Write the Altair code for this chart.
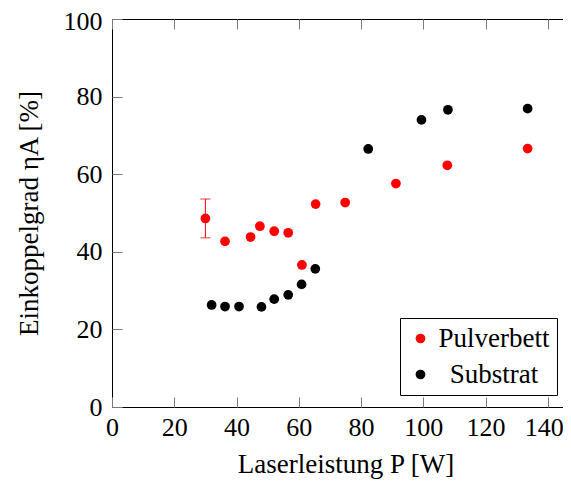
import altair as alt
import pandas as pd

# ---- data ----
series = ["Pulverbett", "Substrat"]
colors = ["#ff0000", "#000000"]

P_pulverbett = [30.0, 36.3, 44.5, 47.5, 52.1, 56.6, 61.0, 65.4, 74.9, 91.2, 107.7, 133.5]
eta_pulverbett = [48.6, 42.7, 43.8, 46.6, 45.3, 44.9, 36.6, 52.3, 52.7, 57.6, 62.3, 66.6]

P_substrat = [32.0, 36.3, 40.8, 48.0, 52.1, 56.6, 60.9, 65.3, 82.3, 99.4, 107.9, 133.5]
eta_substrat = [26.3, 25.9, 25.9, 25.8, 27.8, 28.9, 31.6, 35.6, 66.5, 74.0, 76.6, 76.9]

err_P = [30.0]
err_lo = [43.6]
err_hi = [53.6]

x_ticks = [0, 20, 40, 60, 80, 100, 120, 140]
y_ticks = [0, 20, 40, 60, 80, 100]
x_domain = [0, 150]
y_domain = [0, 100]

FONT = "Liberation Serif"
TICK = 10

df = pd.concat([
    pd.DataFrame({"P": P_pulverbett, "eta": eta_pulverbett, "serie": series[0]}),
    pd.DataFrame({"P": P_substrat, "eta": eta_substrat, "serie": series[1]}),
])
err_df = pd.DataFrame({"P": err_P, "lo": err_lo, "hi": err_hi})
cap_df = pd.DataFrame({"P": err_P + err_P, "y": err_lo + err_hi})

xs = alt.Scale(domain=x_domain, nice=False, zero=False)
ys = alt.Scale(domain=y_domain, nice=False, zero=False)

tick_axis = dict(labels=False, domain=False, tickSize=TICK, title=None,
                 tickColor="#7a7a7a", tickWidth=1, grid=False)

stem = alt.Chart(err_df).mark_rule(color="#ff0000", strokeWidth=1).encode(
    x=alt.X("P:Q", scale=xs,
            axis=alt.Axis(orient="top", values=x_ticks, offset=-TICK, **tick_axis)),
    y=alt.Y("lo:Q", scale=ys,
            axis=alt.Axis(orient="right", values=y_ticks, offset=-TICK, **tick_axis)),
    y2="hi:Q",
)

caps = alt.Chart(cap_df).mark_tick(color="#ff0000", orient="horizontal",
                                   size=10, thickness=1, opacity=0.8).encode(
    x=alt.X("P:Q", scale=xs, axis=None),
    y=alt.Y("y:Q", scale=ys, axis=None),
)

pts = alt.Chart(df).mark_circle(size=95, opacity=1).encode(
    x=alt.X("P:Q", scale=xs,
            axis=alt.Axis(orient="bottom", values=x_ticks, domain=False,
                          tickSize=TICK, offset=-TICK, tickColor="#7a7a7a",
                          labelPadding=7, labelFontSize=26, labelFont=FONT,
                          labelColor="black", format="d", grid=False,
                          labelFlush=False,
                          labelOffset={"condition": {"test": "datum.value == 140",
                                                     "value": -4},
                                       "value": 0},
                          title="Laserleistung P [W]", titleFont=FONT,
                          titleFontSize=27, titleFontWeight="normal",
                          titleColor="black", titlePadding=11)),
    y=alt.Y("eta:Q", scale=ys,
            axis=alt.Axis(orient="left", values=y_ticks, domain=False,
                          tickSize=TICK, offset=-TICK, tickColor="#7a7a7a",
                          labelPadding=10, labelFontSize=26, labelFont=FONT,
                          labelColor="black", format="d", grid=False,
                          labelFlush=False,
                          labelOffset={"condition": {"test": "datum.value == 100",
                                                     "value": 2},
                                       "value": 0},
                          title="Einkoppelgrad ηA [%]", titleFont=FONT,
                          titleFontSize=27, titleFontWeight="normal",
                          titleColor="black", titlePadding=20)),
    color=alt.Color("serie:N", scale=alt.Scale(domain=series, range=colors),
                    legend=alt.Legend(title=None, orient="none",
                                      legendX=288, legendY=299,
                                      strokeColor="black", fillColor="white",
                                      padding=7, symbolType="circle",
                                      symbolSize=95, symbolStrokeWidth=0,
                                      labelFont=FONT, labelFontSize=27,
                                      labelColor="black", rowPadding=8,
                                      labelAlign="center", labelOffset=60,
                                      labelLimit=300)),
)

chart = alt.layer(stem, caps, pts).resolve_axis(
    x="independent", y="independent"
).properties(
    width=467, height=388,
    autosize=alt.AutoSizeParams(type="none"),
    padding={"left": 104, "top": 11, "right": -16, "bottom": 72},
    background="white",
).configure_view(
    stroke="black", strokeWidth=1
)

chart.save("out.html", embed_options={"renderer": "svg", "actions": False})
